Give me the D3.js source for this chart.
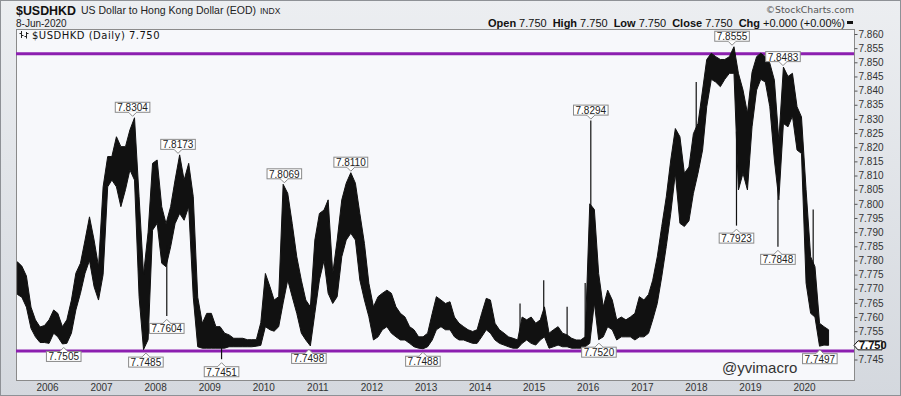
<!DOCTYPE html>
<html>
<head>
<meta charset="utf-8">
<script src="https://d3js.org/d3.v7.min.js"></script>
<style>
  body { margin: 0; background: #fff; }
  svg { display: block; font-family: "Liberation Sans", Arial, sans-serif; }
</style>
</head>
<body>
<div class="canvas"></div>
<script>
////////////////////////// DATA ///////////////////////////////
// monthly high / low of the daily bars, Jun 2005 .. Jun 2020
const firstMonth = new Date(2005, 5, 1);
const lastMonth = new Date(2020, 5, 1);

const highs = [
  7.7795, 7.778, 7.7745, 7.7635, 7.759, 7.7565, 7.757,                               // 2005
  7.759, 7.7625, 7.7613, 7.7566, 7.759, 7.766, 7.7755, 7.779, 7.7872, 7.7954, 7.7872, 7.7778,   // 2006
  7.806, 7.8167, 7.8167, 7.8237, 7.8202, 7.8202, 7.8261, 7.8304, 7.8025, 7.775, 7.790, 7.8143,  // 2007
  7.8155, 7.799, 7.793, 7.799, 7.8084, 7.8173, 7.8084, 7.8143, 7.8025, 7.767, 7.7578, 7.7613,   // 2008
  7.7613, 7.7566, 7.7566, 7.7543, 7.7537, 7.7525, 7.7525, 7.7525, 7.752, 7.752, 7.752, 7.758,   // 2009
  7.7754, 7.7707, 7.766, 7.7672, 7.8069, 7.8037, 7.7931, 7.7813, 7.773, 7.766, 7.7636, 7.7872,  // 2010
  7.7966, 7.7978, 7.8014, 7.7754, 7.7872, 7.8014, 7.8073, 7.8110, 7.8073, 7.7966, 7.786, 7.7719, // 2011
  7.7636, 7.7672, 7.7684, 7.7695, 7.7684, 7.7636, 7.7613, 7.760, 7.7566, 7.7555, 7.753, 7.753,  // 2012
  7.7543, 7.7613, 7.7672, 7.766, 7.7648, 7.7654, 7.760, 7.7578, 7.7566, 7.7555, 7.7549, 7.7555, // 2013
  7.7613, 7.7666, 7.766, 7.7578, 7.7555, 7.7543, 7.753, 7.7525, 7.7519, 7.760, 7.759, 7.760,    // 2014
  7.7578, 7.759, 7.7636, 7.7543, 7.7555, 7.7566, 7.7543, 7.7537, 7.7525, 7.7519, 7.7519, 7.753, // 2015
  7.800, 7.798, 7.7754, 7.7636, 7.7695, 7.766, 7.759, 7.760, 7.759, 7.760, 7.7613, 7.7672,      // 2016
  7.766, 7.768, 7.773, 7.7813, 7.792, 7.8025, 7.8155, 7.8266, 7.8237, 7.8108, 7.813, 7.8248,    // 2017
  7.8284, 7.8402, 7.851, 7.8532, 7.852, 7.851, 7.851, 7.852, 7.8555, 7.8461, 7.8402, 7.832,     // 2018
  7.8465, 7.852, 7.8532, 7.852, 7.8497, 7.8437, 7.8225, 7.8483, 7.845, 7.8461, 7.8343, 7.8307,  // 2019
  7.805, 7.7813, 7.7778, 7.7578, 7.7566, 7.7555                                       // 2020
];

const lows = [
  7.768, 7.767, 7.7635, 7.756, 7.753, 7.751, 7.751,
  7.7507, 7.7543, 7.753, 7.7505, 7.7507, 7.7543, 7.7625, 7.7684, 7.7755, 7.780, 7.7707, 7.766,
  7.775, 7.806, 7.8084, 7.806, 7.799, 7.805, 7.812, 7.8084, 7.7672, 7.7485, 7.752, 7.7907,
  7.7931, 7.779, 7.7778, 7.7848, 7.793, 7.7966, 7.7942, 7.799, 7.767, 7.7495, 7.749, 7.749,
  7.749, 7.749, 7.749, 7.749, 7.7495, 7.7495, 7.7495, 7.7495, 7.7495, 7.7495, 7.7497, 7.750,
  7.7566, 7.7555, 7.755, 7.7566, 7.765, 7.7731, 7.7672, 7.7613, 7.7543, 7.7519, 7.7498, 7.7613,
  7.7731, 7.780, 7.7684, 7.7648, 7.7672, 7.7813, 7.7872, 7.7896, 7.7872, 7.7731, 7.766, 7.7601,
  7.7519, 7.753, 7.7555, 7.7566, 7.7543, 7.753, 7.7519, 7.7519, 7.7507, 7.7495, 7.749, 7.7488,
  7.7495, 7.7519, 7.7555, 7.7566, 7.7555, 7.7555, 7.753, 7.7519, 7.7519, 7.7513, 7.7507, 7.7507,
  7.753, 7.7555, 7.7543, 7.7519, 7.7507, 7.7501, 7.7495, 7.749, 7.749, 7.7507, 7.7519, 7.7507,
  7.7501, 7.7519, 7.753, 7.749, 7.7495, 7.7501, 7.7495, 7.7495, 7.749, 7.749, 7.749, 7.7495,
  7.7507, 7.765, 7.752, 7.753, 7.7566, 7.7555, 7.7519, 7.753, 7.753, 7.753, 7.7519, 7.753,
  7.753, 7.7543, 7.759, 7.7648, 7.7742, 7.785, 7.7966, 7.8108, 7.7931, 7.792, 7.794, 7.8037,
  7.8108, 7.819, 7.8343, 7.844, 7.843, 7.8414, 7.844, 7.8461, 7.8461, 7.8049, 7.8108, 7.8049,
  7.8272, 7.8402, 7.844, 7.843, 7.8343, 7.8155, 7.8014, 7.8284, 7.8272, 7.831, 7.819, 7.8178,
  7.772, 7.7613, 7.760, 7.7497, 7.7501, 7.750
];

// single-day wicks sticking out of the band
const spikeDates = ["2008-03-20", "2009-03-25", "2014-10-01", "2015-03-10", "2015-08-15", "2015-12-15",
  "2016-01-22", "2018-01-03", "2018-10-02", "2019-07-09", "2020-03-03"];
const spikeValues = [7.7604, 7.7451, 7.7648, 7.773, 7.7636, 7.772, 7.8294, 7.843, 7.7923, 7.7848, 7.798];

// value tags
const peakDates = ["2007-08-02", "2008-06-04", "2010-05-23", "2011-08-15", "2016-01-22", "2018-09-02", "2019-08-12"];
const peakValues = [7.8304, 7.8173, 7.8069, 7.8110, 7.8294, 7.8555, 7.8483];
const troughDates = ["2006-04-24", "2007-10-31", "2008-03-20", "2009-03-25", "2010-11-05", "2012-12-14",
  "2016-03-17", "2018-10-02", "2019-07-09", "2020-04-17"];
const troughValues = [7.7505, 7.7485, 7.7604, 7.7451, 7.7498, 7.7488, 7.7520, 7.7923, 7.7848, 7.7497];

// horizontal purple levels
const levels = [7.853, 7.748];

const yTicks = d3.range(7.745, 7.8601, 0.005);
const years = d3.range(2006, 2021);
const lastClose = 7.750;


////////////////////////// CHART ///////////////////////////////
const dims = { width: 901, height: 396 };
const plot = { left: 16, top: 29, right: 854, bottom: 380 };
const parse = d3.timeParse("%Y-%m-%d");

const svg = d3.select(".canvas")
  .append("svg")
  .attr("width", dims.width)
  .attr("height", dims.height);

const defs = svg.append("defs");
const grad = defs.append("linearGradient")
  .attr("id", "bg").attr("x1", 0).attr("y1", 0).attr("x2", 0).attr("y2", 1);
grad.append("stop").attr("offset", "0%").attr("stop-color", "#eceef1");
grad.append("stop").attr("offset", "100%").attr("stop-color", "#d4d8de");

defs.append("clipPath").attr("id", "plotClip")
  .append("rect")
  .attr("x", plot.left).attr("y", plot.top)
  .attr("width", plot.right - plot.left).attr("height", plot.bottom - plot.top);

svg.append("rect")
  .attr("width", dims.width).attr("height", dims.height)
  .attr("fill", "url(#bg)");

svg.append("rect")
  .attr("x", 0.5).attr("y", 0.5)
  .attr("width", dims.width - 1).attr("height", dims.height - 1)
  .attr("fill", "none").attr("stroke", "#8e9196");

svg.append("rect")
  .attr("x", plot.left + 0.5).attr("y", plot.top + 0.5)
  .attr("width", plot.right - plot.left).attr("height", plot.bottom - plot.top)
  .attr("fill", "#f7f8fb")
  .attr("stroke", "#8a8a8a");

// scales
const x = d3.scaleTime()
  .domain([new Date(2006, 0, 1), new Date(2020, 0, 1)])
  .range([47, 804]);

const y = d3.scaleLinear()
  .domain([7.745, 7.860])
  .range([359.5, 34]);

const months = d3.timeMonth.range(firstMonth, d3.timeMonth.offset(lastMonth, 1));
const bars = months.map((m, i) => ({ date: d3.timeDay.offset(m, 14), hi: highs[i], lo: lows[i] }));

const graph = svg.append("g").attr("clip-path", "url(#plotClip)");

// purple levels
graph.selectAll("line.level")
  .data(levels)
  .enter().append("line")
  .attr("class", "level")
  .attr("x1", plot.left).attr("x2", plot.right)
  .attr("y1", d => y(d)).attr("y2", d => y(d))
  .attr("stroke", "#8c1fb0")
  .attr("stroke-width", 3);

// price band
const band = d3.area()
  .x(d => x(d.date))
  .y0(d => y(d.lo))
  .y1(d => y(d.hi))
  .curve(d3.curveLinear);

graph.append("path")
  .datum(bars)
  .attr("d", band)
  .attr("fill", "#111")
  .attr("stroke", "#111")
  .attr("stroke-width", 1)
  .attr("stroke-linejoin", "round");

// wicks
const monthOf = date => d3.bisector(d => d.date).center(bars, date);
graph.selectAll("line.spike")
  .data(spikeDates.map((d, i) => ({ date: parse(d), v: spikeValues[i] })))
  .enter().append("line")
  .attr("class", "spike")
  .attr("x1", d => x(d.date)).attr("x2", d => x(d.date))
  .attr("y1", d => y(d.v))
  .attr("y2", d => { const b = bars[monthOf(d.date)]; return y((b.hi + b.lo) / 2); })
  .attr("stroke", "#111")
  .attr("stroke-width", 1.2);

// value tags
const tags = svg.append("g")
  .attr("font-size", "10px")
  .attr("fill", "#222");

const drawTag = (date, value, isHigh) => {
  const g = tags.append("g").attr("transform", `translate(${x(date)},${y(value)})`);
  const txt = g.append("text")
    .attr("text-anchor", "middle")
    .attr("y", isHigh ? -6.5 : 16.5)
    .text(value.toFixed(4));
  const w = txt.node().getComputedTextLength() + 4;
  const top = isHigh ? -15.5 : 7.5;
  const edge = isHigh ? -5.5 : 7.5;
  const tip = isHigh ? -1.5 : 3.5;
  g.insert("rect", "text")
    .attr("x", -w / 2).attr("y", top)
    .attr("width", w).attr("height", 10)
    .attr("fill", "#fff").attr("stroke", "#8a8a8a");
  g.insert("path", "text")
    .attr("d", `M-4,${edge} L0,${tip} L4,${edge}`)
    .attr("fill", "#fff").attr("stroke", "#8a8a8a");
  g.insert("line", "text")
    .attr("x1", -3.3).attr("x2", 3.3).attr("y1", edge).attr("y2", edge)
    .attr("stroke", "#fff").attr("stroke-width", 1.2);
};

peakDates.forEach((d, i) => drawTag(parse(d), peakValues[i], true));
troughDates.forEach((d, i) => drawTag(parse(d), troughValues[i], false));

// right axis
const yAxis = d3.axisRight(y)
  .tickValues(yTicks)
  .tickSize(3)
  .tickPadding(1)
  .tickFormat(d3.format(".3f"));

const yAxisGroup = svg.append("g")
  .attr("transform", `translate(${plot.right + 0.5},0)`)
  .call(yAxis);
yAxisGroup.select(".domain").remove();
yAxisGroup.selectAll("line").attr("stroke", "#555");
yAxisGroup.selectAll("text")
  .attr("font-size", "10px")
  .attr("font-family", "Liberation Sans, Arial, sans-serif")
  .attr("fill", "#333")
  .style("display", d => Math.abs(d - lastClose) < 1e-6 ? "none" : null);

// last price marker
const mark = svg.append("g").attr("transform", `translate(${plot.right},${y(lastClose)})`);
mark.append("path")
  .attr("d", "M0,0 L4,-4.5 L28,-4.5 L28,4.5 L4,4.5 Z")
  .attr("fill", "#fff").attr("stroke", "#111");
mark.append("text")
  .attr("x", 5).attr("y", 3.8)
  .attr("font-size", "11px").attr("font-weight", "bold")
  .attr("fill", "#111")
  .text(d3.format(".3f")(lastClose));

// bottom axis
const xAxis = d3.axisBottom(x)
  .tickValues(years.map(yr => new Date(yr, 0, 1)))
  .tickSize(0)
  .tickPadding(4)
  .tickFormat(d3.timeFormat("%Y"));

const xAxisGroup = svg.append("g")
  .attr("transform", `translate(0,${plot.bottom})`)
  .call(xAxis);
xAxisGroup.select(".domain").remove();
xAxisGroup.selectAll("text")
  .attr("font-size", "10px")
  .attr("font-family", "Liberation Sans, Arial, sans-serif")
  .attr("fill", "#333");

// header
svg.append("text")
  .attr("x", 16).attr("y", 14.5)
  .attr("font-size", "13.5px").attr("font-weight", "bold").attr("fill", "#111")
  .attr("textLength", 60).attr("lengthAdjust", "spacingAndGlyphs")
  .text("$USDHKD");
svg.append("text")
  .attr("x", 81).attr("y", 13.5)
  .attr("font-size", "10.5px").attr("fill", "#222")
  .text("US Dollar to Hong Kong Dollar (EOD)");
svg.append("text")
  .attr("x", 260).attr("y", 13.5)
  .attr("font-size", "8.5px").attr("fill", "#222")
  .text("INDX");
svg.append("text")
  .attr("x", 16).attr("y", 27)
  .attr("font-size", "10px").attr("fill", "#222")
  .text("8-Jun-2020");

svg.append("text")
  .attr("x", 854).attr("y", 13)
  .attr("text-anchor", "end")
  .attr("font-family", "DejaVu Sans, Verdana, sans-serif")
  .attr("font-size", "9.3px").attr("fill", "#555")
  .text("\u00a9StockCharts.com");

const quote = svg.append("text")
  .attr("x", 845).attr("y", 26.5)
  .attr("text-anchor", "end")
  .attr("font-size", "11px").attr("fill", "#111");
[["Open", "7.750"], ["High", "7.750"], ["Low", "7.750"], ["Close", "7.750"], ["Chg", "+0.000 (+0.00%)"]]
  .forEach(([k, v], i) => {
    quote.append("tspan").attr("font-weight", "bold").attr("dx", i ? 6 : 0).text(k);
    quote.append("tspan").attr("dx", 3).text(v);
  });
svg.append("line")
  .attr("x1", 847).attr("x2", 853).attr("y1", 22.5).attr("y2", 22.5)
  .attr("stroke", "#111").attr("stroke-width", 3);

// legend inside plot
const icon = svg.append("g").attr("stroke", "#222").attr("stroke-width", 1);
icon.append("path").attr("d", "M21.5,31 V38 M19.5,33.5 H21.5 M21.5,35.5 H23.5");
icon.append("path").attr("d", "M26.5,32 V38.5 M24.5,36.5 H26.5 M26.5,33.5 H28.5");
svg.append("text")
  .attr("x", 32).attr("y", 38.5)
  .attr("font-family", "DejaVu Sans, Verdana, sans-serif")
  .attr("font-size", "10px").attr("letter-spacing", "0.5px").attr("fill", "#111")
  .text("$USDHKD (Daily) 7.750");

// watermark
svg.append("text")
  .attr("x", 722).attr("y", 373)
  .attr("font-size", "15px").attr("fill", "#333")
  .text("@yvimacro");
</script>
</body>
</html>
